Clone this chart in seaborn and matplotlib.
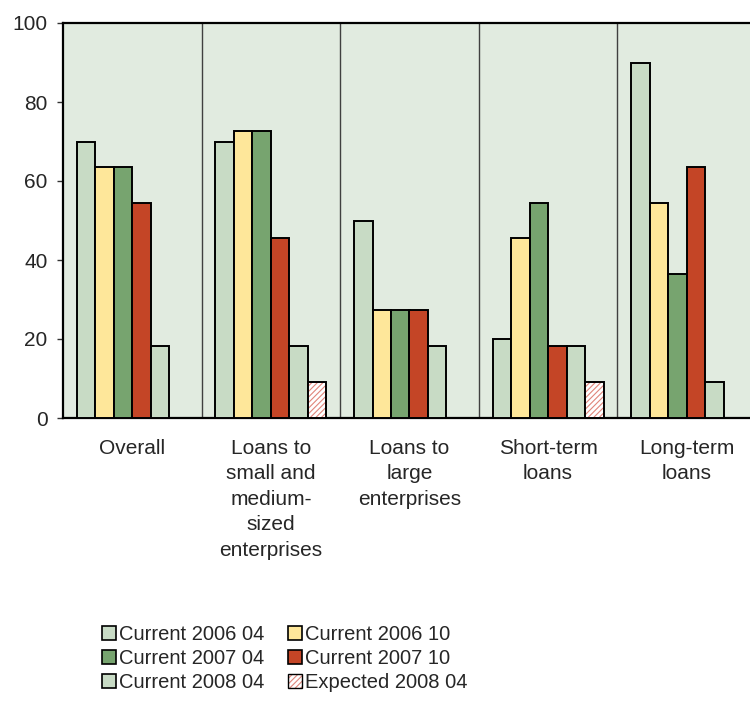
import numpy as np
import pandas as pd
import matplotlib
matplotlib.use("Agg")
import matplotlib.pyplot as plt
from matplotlib.patches import Patch, Rectangle
import seaborn as sns

categories = [
    "Overall",
    "Loans to\nsmall and\nmedium-\nsized\nenterprises",
    "Loans to\nlarge\nenterprises",
    "Short-term\nloans",
    "Long-term\nloans",
]
series = [
    "Current 2006 04",
    "Current 2006 10",
    "Current 2007 04",
    "Current 2007 10",
    "Current 2008 04",
    "Expected 2008 04",
]
cur_2006_04 = [70.0, 70.0, 50.0, 20.0, 90.0]
cur_2006_10 = [63.6, 72.7, 27.3, 45.5, 54.5]
cur_2007_04 = [63.6, 72.7, 27.3, 54.5, 36.4]
cur_2007_10 = [54.5, 45.5, 27.3, 18.2, 63.6]
cur_2008_04 = [18.2, 18.2, 18.2, 18.2, 9.1]
exp_2008_04 = [np.nan, 9.1, np.nan, 9.1, np.nan]
yticks = [0, 20, 40, 60, 80, 100]

colors = ["#C8DBC5", "#FEE79A", "#77A46F", "#C44526", "#C8DBC5", "#FFFFFF"]
hatch_color = "#E0857A"

values = [cur_2006_04, cur_2006_10, cur_2007_04, cur_2007_10, cur_2008_04, exp_2008_04]
rows = []
for s, vals in zip(series, values):
    for c, v in zip(categories, vals):
        rows.append({"category": c, "series": s, "value": v})
df = pd.DataFrame(rows)

sns.set_theme(style="white")
plt.rcParams["font.family"] = ["Liberation Sans", "DejaVu Sans"]
plt.rcParams["hatch.linewidth"] = 0.8

fig = plt.figure(figsize=(7.5, 7.04), dpi=100)
ax = fig.add_axes([63 / 750, 1 - 418 / 704, 693 / 750, 395 / 704])
ax.set_facecolor("#E1EBE0")

sns.barplot(
    data=df, x="category", y="value", hue="series",
    order=categories, hue_order=series, palette=colors, saturation=1,
    width=0.8, edgecolor="black", linewidth=1.4,
    ax=ax, legend=False, errorbar=None, zorder=3,
)

# Expected series: red hatching inside a black outline
for p in ax.containers[-1]:
    h = p.get_height()
    if np.isnan(h) or h == 0:
        continue
    p.set_hatch("//////")
    p.set_edgecolor(hatch_color)
    p.set_linewidth(0)
    ax.add_patch(Rectangle((p.get_x(), p.get_y()), p.get_width(), h,
                           fill=False, edgecolor="black", linewidth=1.4, zorder=4))

ax.set_xlim(-0.5, len(categories) - 0.5)
ax.set_ylim(0, 100)
ax.set_yticks(yticks)
ax.set_xlabel("")
ax.set_ylabel("")

# Category separators
for b in np.arange(0.5, len(categories) - 0.5, 1.0):
    ax.axvline(b, color="#404040", linewidth=1.0, zorder=1)

ax.set_xticks(range(len(categories)))
ax.set_xticklabels(categories, fontsize=15, linespacing=1.43)
ax.set_xticks(np.arange(-0.5, len(categories), 1.0), minor=True)
ax.tick_params(axis="x", which="major", length=0, pad=15)
ax.tick_params(axis="x", which="minor", length=5, width=1, color="black", direction="out")
ax.tick_params(axis="y", length=4.5, width=1, color="#333333", direction="out",
               labelsize=15, pad=6.5, left=True)

for side in ["left", "bottom", "top"]:
    ax.spines[side].set_visible(True)
    ax.spines[side].set_color("black")
    ax.spines[side].set_linewidth(1.6)
ax.spines["right"].set_visible(False)

handles = []
for s, col in zip(series, colors):
    if s.startswith("Expected"):
        handles.append((Patch(facecolor="white", edgecolor=hatch_color, hatch="//////", linewidth=0),
                        Patch(fill=False, edgecolor="black", linewidth=1.0)))
    else:
        handles.append(Patch(facecolor=col, edgecolor="black", linewidth=1.2))
order = [0, 2, 4, 1, 3, 5]
fig.legend(
    [handles[i] for i in order], [series[i] for i in order],
    ncol=2, loc="upper left", bbox_to_anchor=(94 / 750, 1 - 617 / 704),
    frameon=False, fontsize=14.5, handlelength=0.7, handleheight=0.7,
    handletextpad=0.12, columnspacing=1.2, labelspacing=0.24, borderaxespad=0,
)

fig.savefig("out.png", dpi=100)
